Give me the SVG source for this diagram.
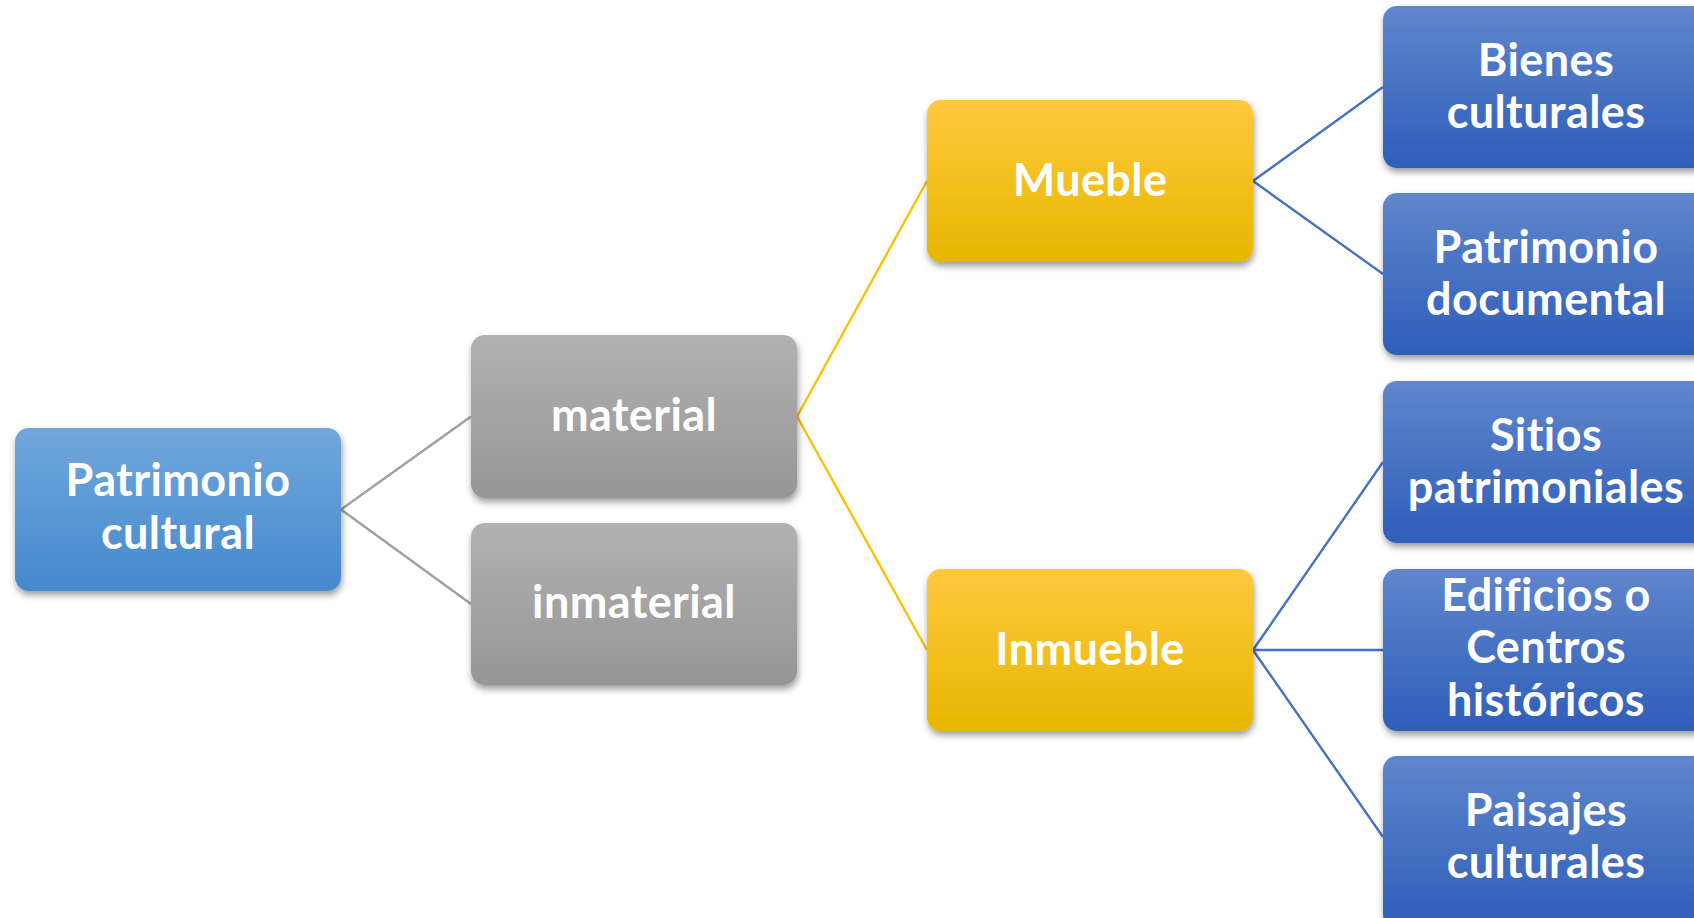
<svg xmlns="http://www.w3.org/2000/svg" width="1694" height="918" viewBox="0 0 1694 918">
<defs>
<linearGradient id="gRoot" x1="0" y1="0" x2="0" y2="1"><stop offset="0" stop-color="#70a7dc"/><stop offset="1" stop-color="#4589cd"/></linearGradient>
<linearGradient id="gGray" x1="0" y1="0" x2="0" y2="1"><stop offset="0" stop-color="#b1b1b1"/><stop offset="1" stop-color="#969696"/></linearGradient>
<linearGradient id="gGold" x1="0" y1="0" x2="0" y2="1"><stop offset="0" stop-color="#ffc83e"/><stop offset="1" stop-color="#e7b700"/></linearGradient>
<linearGradient id="gBlue" x1="0" y1="0" x2="0" y2="1"><stop offset="0" stop-color="#6086cc"/><stop offset="1" stop-color="#2e5eb9"/></linearGradient>
<filter id="sh" x="-10%" y="-10%" width="125%" height="130%"><feDropShadow dx="1" dy="4" stdDeviation="3.5" flood-color="#000" flood-opacity="0.4"/></filter>
</defs>
<style>
.box{filter:url(#sh)}
.t{font-family:Lato,"Liberation Sans",sans-serif;font-weight:700;font-size:45px;letter-spacing:0.4px;fill:#fff;text-anchor:middle}
.c{fill:none;stroke-width:2.4}
</style>
<rect width="1694" height="918" fill="#fff"/>
<g id="connectors">
<path class="c" stroke="#a0a0a0" d="M341,509.5 L471,416.5 M341,509.5 L471,604"/>
<path class="c" stroke="#ffc000" d="M797,416.5 L927,181 M797,416.5 L927,650"/>
<path class="c" stroke="#4472c4" d="M1253,181 L1383,87 M1253,181 L1383,274 M1253,650 L1383,462 M1253,650 L1383,650 M1253,650 L1383,837"/>
</g>
<g id="n-root"><rect class="box" x="15" y="428" width="326" height="163" rx="14" fill="url(#gRoot)"/>
<text class="t" x="178" y="496">Patrimonio</text><text class="t" x="178" y="549">cultural</text></g>
<g id="n-material"><rect class="box" x="471" y="335" width="326" height="163" rx="14" fill="url(#gGray)"/>
<text class="t" x="634" y="431">material</text></g>
<g id="n-inmaterial"><rect class="box" x="471" y="523" width="326" height="162" rx="14" fill="url(#gGray)"/>
<text class="t" x="634" y="618">inmaterial</text></g>
<g id="n-mueble"><rect class="box" x="927" y="100" width="326" height="162" rx="14" fill="url(#gGold)"/>
<text class="t" x="1090" y="196">Mueble</text></g>
<g id="n-inmueble"><rect class="box" x="927" y="569" width="326" height="162" rx="14" fill="url(#gGold)"/>
<text class="t" x="1090" y="665">Inmueble</text></g>
<g id="n-bienes"><rect class="box" x="1383" y="6" width="326" height="162" rx="14" fill="url(#gBlue)"/>
<text class="t" x="1546" y="76">Bienes</text><text class="t" x="1546" y="128">culturales</text></g>
<g id="n-documental"><rect class="box" x="1383" y="193" width="326" height="162" rx="14" fill="url(#gBlue)"/>
<text class="t" x="1546" y="263">Patrimonio</text><text class="t" x="1546" y="315">documental</text></g>
<g id="n-sitios"><rect class="box" x="1383" y="381" width="326" height="162" rx="14" fill="url(#gBlue)"/>
<text class="t" x="1546" y="451">Sitios</text><text class="t" x="1546" y="503">patrimoniales</text></g>
<g id="n-edificios"><rect class="box" x="1383" y="569" width="326" height="162" rx="14" fill="url(#gBlue)"/>
<text class="t" x="1546" y="611">Edificios o</text><text class="t" x="1546" y="663">Centros</text><text class="t" x="1546" y="716">históricos</text></g>
<g id="n-paisajes"><rect class="box" x="1383" y="756" width="326" height="172" rx="14" fill="url(#gBlue)"/>
<text class="t" x="1546" y="826">Paisajes</text><text class="t" x="1546" y="878">culturales</text></g>
</svg>
